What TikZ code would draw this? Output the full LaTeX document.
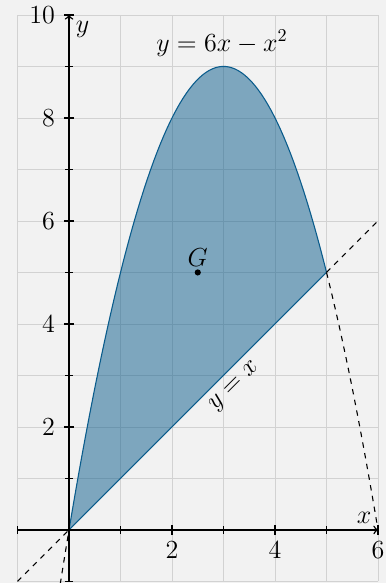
\documentclass[tikz,border=0pt]{standalone}
\usepackage{amsmath}
\usepackage{tikz}
\definecolor{bgcol}{HTML}{F2F2F2}
\definecolor{curveblue}{RGB}{10,92,140}

\begin{document}
\begin{tikzpicture}[>=to, font=\Large]
    % Background and grid
    \fill[bgcol] (-1.34,-1.03) rectangle (6.16,10.29);
    \useasboundingbox (-1.34,-1.03) rectangle (6.16,10.29);
    \draw[gray!35, thin] (-1,-1) grid (6,10);

    % Region between y = x and the parabola
    \fill[curveblue, fill opacity=0.5] (0,0) -- plot[domain=0:5, samples=80] (\x, {6*\x-\x*\x}) -- cycle;
    \draw[curveblue, semithick] plot[domain=0:5, samples=80] (\x, {6*\x-\x*\x});
    \draw[curveblue, semithick] (0,0) -- (5,5);

    % Dashed continuations
    \draw[semithick, dashed] (-1,-1) -- (0,0);
    \draw[semithick, dashed] (5,5) -- (6,6);
    \draw[semithick, dashed] plot[domain=-0.17:0, samples=10] (\x, {6*\x-\x*\x});
    \draw[semithick, dashed] plot[domain=5:6, samples=30] (\x, {6*\x-\x*\x});

    % Axes
    \draw[thick, ->] (-1,0) -- (6,0) node[above left] (xlab) {$x$};
    \draw[thick, ->] (0,-1) -- (0,10) node[below right] (ylab) {$y$};
    \foreach \t in {-1,1,3,5} \draw[thick] (\t,-0.075) -- (\t,0.075);
    \foreach \t in {0,2,4,6} \draw[thick] (\t,-0.1) -- (\t,0.1);
    \foreach \t in {-1,1,3,...,9} \draw[thick] (-0.075,\t) -- (0.075,\t);
    \foreach \t in {0,2,...,10} \draw[thick] (-0.1,\t) -- (0.1,\t);
    \foreach \t in {2,4,6} \node[below] (xt\t) at (\t,-0.1) {$\t$};
    \foreach \t in {2,4,...,10} \node[left] (yt\t) at (-0.15,\t) {$\t$};

    % Labels
    \node (parab) at (2.97,9.45) {$y=6x-x^2$};
    \node[rotate=45] (diag) at (3.22,2.78) {$y=x$};
    \fill (2.5,5) circle (0.06);
    \node[above] (cent) at (2.5,5) {$G$};
\end{tikzpicture}
\end{document}
